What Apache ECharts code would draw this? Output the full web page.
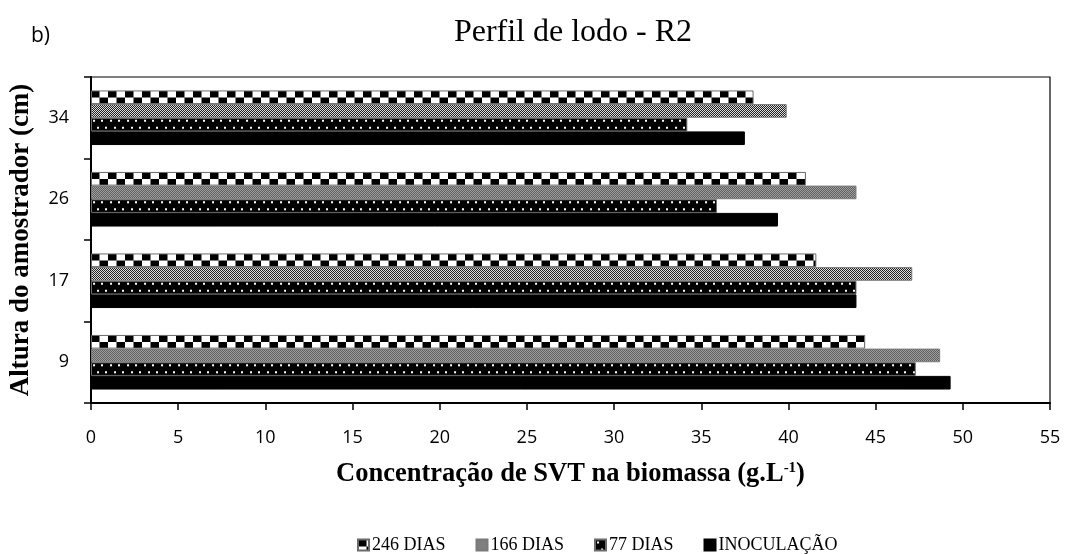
<!DOCTYPE html>
<html>
<head>
<meta charset="utf-8">
<script src="https://cdn.jsdelivr.net/npm/echarts@6/dist/echarts.min.js"></script>
<style>
  html, body { margin: 0; padding: 0; background: #ffffff; }
  #chart { width: 1067px; height: 554px; }
</style>
</head>
<body>
<div id="chart"></div>
<script>
// Sampler heights (cm), bottom to top
const alturas = ['9', '17', '26', '34'];
// SVT concentration in the biomass (g/L) for each sampling moment
const inoculacao = [49.3, 43.9, 39.4, 37.5];
const dias77 = [47.3, 43.9, 35.9, 34.2];
const dias166 = [48.7, 47.1, 43.9, 39.9];
const dias246 = [44.4, 41.6, 41.0, 38.0];
// x axis ticks
const xMin = 0, xMax = 55, xStep = 5;

const serif = '"Liberation Serif", "Times New Roman", serif';
const sans = '"Open Sans", "Liberation Sans", sans-serif';

// --- fill patterns --------------------------------------------------------
function canvasOf(w, h, draw) {
  const c = document.createElement('canvas');
  c.width = w; c.height = h;
  const ctx = c.getContext('2d');
  draw(ctx);
  return c;
}
// large checkerboard: two rows of squares per bar
const bigChecker = canvasOf(17, 14, ctx => {
  ctx.fillStyle = '#fff'; ctx.fillRect(0, 0, 17, 14);
  ctx.fillStyle = '#000';
  ctx.fillRect(0, 0, 8.5, 7);
  ctx.fillRect(8.5, 7, 8.5, 7);
});
// fine 1px dither
const fineChecker = canvasOf(2, 2, ctx => {
  ctx.fillStyle = '#fff'; ctx.fillRect(0, 0, 2, 2);
  ctx.fillStyle = '#000';
  ctx.fillRect(0, 0, 1, 1);
  ctx.fillRect(1, 1, 1, 1);
});
// black with staggered white dots
const dotted = canvasOf(17, 14, ctx => {
  ctx.fillStyle = '#000'; ctx.fillRect(0, 0, 17, 14);
  ctx.fillStyle = '#fff';
  ctx.fillRect(2, 2, 2, 2);
  ctx.fillRect(10, 2, 2, 2);
  ctx.fillRect(6, 9, 2, 2);
  ctx.fillRect(14, 9, 2, 2);
});

function pattern(img, x, y) {
  return { image: img, repeat: 'repeat', x: x || 0, y: y || 0 };
}

// first series is drawn at the top of each group
const seriesDefs = [
  { name: '246 DIAS', values: dias246, img: bigChecker, border: '#6b6b6b' },
  { name: '166 DIAS', values: dias166, img: fineChecker, border: '#7a7a7a' },
  { name: '77 DIAS', values: dias77, img: dotted, border: '#6b6b6b' },
  { name: 'INOCULAÇÃO', values: inoculacao, img: null, border: '#000' }
];

function buildSeries(layouts) {
  return seriesDefs.map((s, si) => ({
    name: s.name,
    type: 'bar',
    barGap: '0%',
    barCategoryGap: '33%',
    itemStyle: {
      color: s.img ? pattern(s.img) : '#000',
      borderColor: s.border,
      borderWidth: 1
    },
    emphasis: { disabled: true },
    data: s.values.map((v, i) => {
      if (!s.img || !layouts) return v;
      const l = layouts[si][i];
      return { value: v, itemStyle: { color: pattern(s.img, l.x, Math.min(l.y, l.y + l.height)) } };
    })
  }));
}

const chart = echarts.init(document.getElementById('chart'), null, { renderer: 'canvas' });

const option = {
  animation: false,
  backgroundColor: '#ffffff',
  title: [
    {
      text: 'Perfil de lodo - R2',
      left: 568, top: 12, textAlign: 'center',
      textStyle: { fontFamily: serif, fontSize: 32, fontWeight: 'normal', color: '#000' }
    },
    {
      text: 'b)',
      left: 26, top: 21,
      textStyle: { fontFamily: sans, fontSize: 21, fontWeight: 'normal', color: '#000' }
    }
  ],
  legend: {
    data: ['246 DIAS', '166 DIAS', '77 DIAS', 'INOCULAÇÃO'],
    left: 352, top: 531,
    itemWidth: 11, itemHeight: 11, itemGap: 30,
    icon: 'rect',
    selectedMode: false,
    textStyle: { fontFamily: serif, fontSize: 18, color: '#000', padding: [0, 0, 0, -2] }
  },
  grid: {
    left: 91, right: 17, top: 77, bottom: 151,
    show: true, borderColor: '#000', borderWidth: 1.2
  },
  xAxis: {
    type: 'value',
    min: xMin, max: xMax, interval: xStep,
    name: 'Concentração de SVT na biomassa (g.L{sup|-1})',
    nameLocation: 'middle',
    nameGap: 58,
    nameTextStyle: {
      fontFamily: serif, fontSize: 26.5, fontWeight: 'bold', color: '#000',
      rich: {
        sup: { fontFamily: serif, fontSize: 15, fontWeight: 'bold', color: '#000', verticalAlign: 'top', lineHeight: 14 }
      }
    },
    axisLine: { show: true, lineStyle: { color: '#000', width: 2 } },
    axisTick: { show: true, length: 7, lineStyle: { color: '#000', width: 1.5 } },
    axisLabel: { fontFamily: sans, fontSize: 18, color: '#000', margin: 26 },
    splitLine: { show: false }
  },
  yAxis: {
    type: 'category',
    data: alturas,
    name: 'Altura do amostrador (cm)',
    nameLocation: 'middle',
    nameGap: 56,
    nameRotate: 90,
    nameTextStyle: { fontFamily: serif, fontSize: 27, fontWeight: 'bold', color: '#000' },
    axisLine: { show: true, lineStyle: { color: '#000', width: 2 } },
    axisTick: { show: true, length: 7, lineStyle: { color: '#000', width: 1.5 } },
    axisLabel: { fontFamily: sans, fontSize: 18, color: '#000', margin: 22 },
    splitLine: { show: false }
  },
  series: buildSeries(null)
};

chart.setOption(option);

// anchor each bar's fill pattern to the bar's own corner
const layouts = seriesDefs.map((s, si) => {
  const data = chart.getModel().getSeriesByIndex(si).getData();
  return s.values.map((v, i) => data.getItemLayout(i));
});
chart.setOption({ series: buildSeries(layouts) });
</script>
</body>
</html>
